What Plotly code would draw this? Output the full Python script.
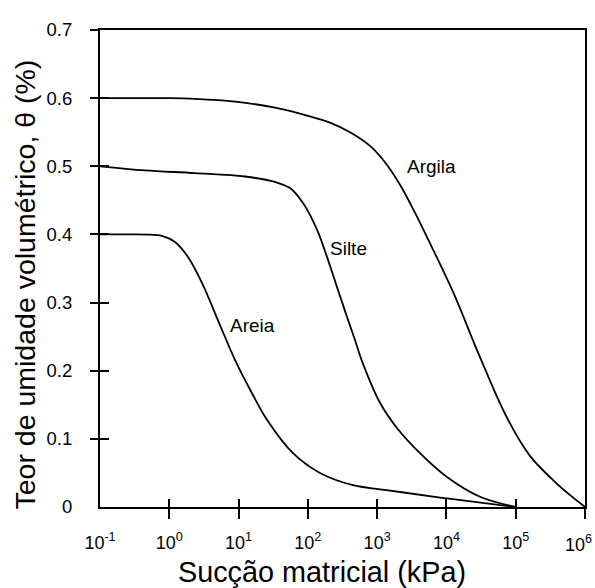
import numpy as np
import plotly.graph_objects as go

# --- data ---
# log10 of matric suction (kPa) and volumetric water content
argila_log = [-1, 0.0, 0.371, 0.948, 1.526, 2.002, 2.319, 2.608, 2.897, 3.113, 3.330,
              3.546, 3.763, 4.094, 4.484, 4.874, 5.206, 5.596, 6]
argila_theta = [0.600, 0.600, 0.599, 0.595, 0.586, 0.574, 0.564, 0.550, 0.530, 0.506, 0.473,
                0.432, 0.387, 0.316, 0.220, 0.131, 0.075, 0.034, 0.0]

silte_log = [-1, -0.351, 0.371, 1.093, 1.526, 1.742, 1.930, 2.132, 2.276, 2.420,
             2.565, 2.680, 2.796, 3.041, 3.286, 3.618, 4.008, 4.484, 5]
silte_theta = [0.500, 0.494, 0.490, 0.485, 0.477, 0.468, 0.446, 0.407, 0.367, 0.323,
               0.279, 0.245, 0.210, 0.153, 0.116, 0.079, 0.044, 0.015, 0.0]

areia_log = [-1, -0.567, -0.278, -0.105, 0.082, 0.270, 0.472, 0.703, 0.948, 1.194, 1.410,
             1.785, 2.175, 2.651, 3.041, 3.330, 4.008, 5]
areia_theta = [0.400, 0.400, 0.3996, 0.398, 0.389, 0.367, 0.329, 0.274, 0.216, 0.167, 0.128,
               0.079, 0.050, 0.032, 0.026, 0.022, 0.0125, 0.0]

x_tick_vals = [0.1, 1, 10, 100, 1000, 10000, 100000, 1000000]
x_tick_text = ["10<sup>-1</sup>", "10<sup>0</sup>", "10<sup>1</sup>", "10<sup>2</sup>",
               "10<sup>3</sup>", "10<sup>4</sup>", "10<sup>5</sup>", "10<sup>6</sup>"]
y_tick_vals = [0, 0.1, 0.2, 0.3, 0.4, 0.5, 0.6, 0.7]
y_tick_text = ["0", "0.1", "0.2", "0.3", "0.4", "0.5", "0.6", "0.7"]

labels = ["Argila", "Silte", "Areia"]
x_title = "Sucção matricial (kPa)"
y_title = "Teor de umidade volumétrico, θ (%)"

FONT = "Liberation Sans, Arial, sans-serif"

fig = go.Figure()
for lg, th in [(argila_log, argila_theta), (silte_log, silte_theta), (areia_log, areia_theta)]:
    fig.add_trace(go.Scatter(
        x=10 ** np.array(lg), y=th, mode="lines",
        line=dict(color="black", width=1.8, shape="spline", smoothing=1.0),
        showlegend=False, hoverinfo="skip"))

# empty traces so overlay tick axes are drawn
fig.add_trace(go.Scatter(x=[], y=[], xaxis="x2", yaxis="y2", showlegend=False))
fig.add_trace(go.Scatter(x=[], y=[], xaxis="x3", yaxis="y3", showlegend=False))

xr = [-1, 6]
yr = [0, 0.7]
common_x = dict(type="log", range=xr, showgrid=False, zeroline=False, automargin=False)
common_y = dict(range=yr, showgrid=False, zeroline=False, automargin=False)

# last x label is drawn as an annotation so it stays inside the page
x_label_text = x_tick_text[:-1] + [""]

fig.update_layout(
    width=595, height=588,
    margin=dict(l=100, r=10, t=30, b=81),
    paper_bgcolor="white", plot_bgcolor="white",
    font=dict(family=FONT, color="black"),
    xaxis=dict(**common_x, tickvals=x_tick_vals, ticktext=x_label_text, ticks="",
               showline=True, linecolor="black", linewidth=2, mirror=True,
               tickfont=dict(size=18, family=FONT, color="black"),
               ticklabelstandoff=18),
    yaxis=dict(**common_y, tickvals=y_tick_vals, ticktext=y_tick_text, ticks="",
               showline=True, linecolor="black", linewidth=2, mirror=True,
               tickfont=dict(size=18.5, family=FONT, color="black"),
               ticklabelstandoff=22),
    xaxis2=dict(**common_x, overlaying="x", anchor="y", tickvals=x_tick_vals[1:],
                ticks="outside", ticklen=11, tickwidth=2, tickcolor="black",
                showticklabels=False, showline=False),
    yaxis2=dict(**common_y, overlaying="y", anchor="x", tickvals=y_tick_vals[1:],
                ticks="outside", ticklen=9, tickwidth=2, tickcolor="black",
                showticklabels=False, showline=False),
    xaxis3=dict(**common_x, overlaying="x", anchor="y", tickvals=x_tick_vals[1:-1],
                ticks="inside", ticklen=8, tickwidth=2, tickcolor="black",
                showticklabels=False, showline=False),
    yaxis3=dict(**common_y, overlaying="y", anchor="x", tickvals=y_tick_vals[1:-1],
                ticks="inside", ticklen=9, tickwidth=2, tickcolor="black",
                showticklabels=False, showline=False),
)

fig.add_annotation(x=1.0185, y=-0.076, xref="paper", yref="paper", text=x_tick_text[-1],
                   showarrow=False, font=dict(size=18, family=FONT, color="black"),
                   xanchor="right", yanchor="middle")

# curve labels
label_pos = [(3.79, 0.499), (2.586, 0.379), (1.201, 0.267)]
for txt, (lx, ly) in zip(labels, label_pos):
    fig.add_annotation(x=lx, y=ly, xref="x", yref="y", text=txt, showarrow=False,
                       font=dict(size=19, family=FONT, color="black"),
                       xanchor="center", yanchor="middle")

# axis titles
fig.add_annotation(x=0.457, y=-0.136, xref="paper", yref="paper", text=x_title,
                   showarrow=False, font=dict(size=28.8, family=FONT, color="black"),
                   xanchor="center", yanchor="middle")
fig.add_annotation(x=-0.155, y=0.466, xref="paper", yref="paper", text=y_title,
                   textangle=-90, showarrow=False,
                   font=dict(size=28.5, family=FONT, color="black"),
                   xanchor="center", yanchor="middle")

fig.write_html("out.html")
